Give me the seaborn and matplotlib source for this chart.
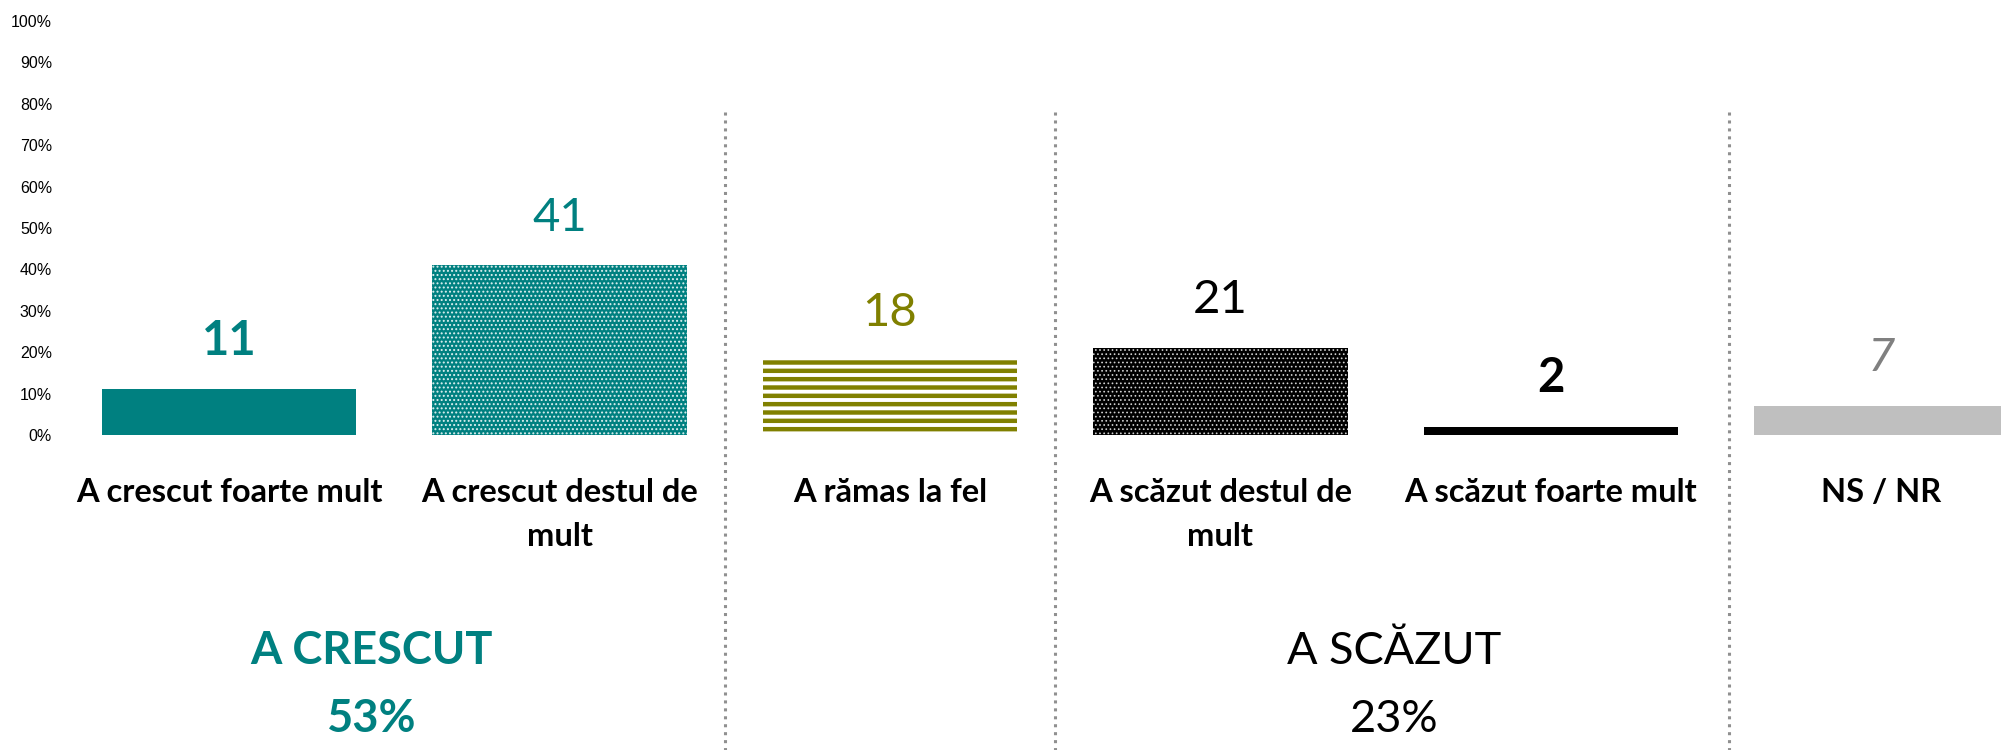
import matplotlib
matplotlib.use('Agg')
import matplotlib.pyplot as plt
import seaborn as sns

# Data
categories = ['A crescut foarte mult', 'A crescut destul de\nmult', 'A rămas la fel',
              'A scăzut destul de\nmult', 'A scăzut foarte mult', 'NS / NR']
values = [11, 41, 18, 21, 2, 7]
value_labels = ['11', '41', '18', '21', '2', '7']
group_titles = ['A CRESCUT', 'A SCĂZUT']
group_totals = ['53%', '23%']
group_centers = [0.43, 3.525]
y_ticks = list(range(0, 101, 10))
separators = [1.5, 2.5, 4.54]

teal = '#008080'
olive = '#808000'

sns.set_style('white')
plt.rcParams['font.family'] = ['Lato', 'DejaVu Sans']
plt.rcParams['text.color'] = 'black'
plt.rcParams['ytick.color'] = 'black'

fig = plt.figure(figsize=(20.01, 7.5), dpi=100)
ax = fig.add_axes([64 / 2001, 315 / 750, 1 - 64 / 2001, 414 / 750])

bar_colors = [teal, teal, 'white', 'black', 'black', '#bfbfbf']
sns.barplot(x=categories, y=values, hue=categories, palette=bar_colors,
            saturation=1, width=0.77, legend=False, ax=ax)

# patterns on the bars
hatches = [None, '....', '--', '....', None, None]
hatch_colors = [None, '#dcefef', olive, '#d0d0d0', None, None]
hatch_widths = [1, 0.9, 3.2, 0.7, 1, 1]
for p, h, hc, hw in zip(ax.patches, hatches, hatch_colors, hatch_widths):
    p.set_linewidth(0)
    if h:
        p.set_hatch(h)
        p.set_edgecolor(hc)
        if hasattr(p, 'set_hatch_linewidth'):
            p.set_hatch_linewidth(hw)

# value labels above the bars
label_style = [
    dict(color=teal, fontweight='bold'),
    dict(color=teal),
    dict(color=olive),
    dict(color='black'),
    dict(color='black', fontweight='bold'),
    dict(color='#808080', fontstyle='italic'),
]
for i, (v, lbl) in enumerate(zip(values, value_labels)):
    ax.annotate(lbl, (i, v), xytext=(0, 25), textcoords='offset points',
                ha='center', va='baseline', fontsize=34, **label_style[i])

# category names under the bars, one line at a time
for i, cat in enumerate(categories):
    for k, line in enumerate(cat.split('\n')):
        ax.text(i, -16.1 - k * 10.8, line, ha='center', va='baseline',
                fontsize=23.5, fontweight='bold', color='black')

# group summaries
ax.text(group_centers[0], -55.3, group_titles[0], ha='center', va='baseline',
        fontsize=32.5, fontweight='bold', color=teal)
ax.text(group_centers[0], -71.7, group_totals[0], ha='center', va='baseline',
        fontsize=32.5, fontweight='bold', color=teal)
ax.text(group_centers[1], -55.3, group_titles[1], ha='center', va='baseline',
        fontsize=32.5, color='black')
ax.text(group_centers[1], -71.7, group_totals[1], ha='center', va='baseline',
        fontsize=32.5, color='black')

# dotted separators
for x in separators:
    ax.plot([x, x], [78, -80], color='#909090', lw=2.2,
            linestyle=(0, (1, 1.6)), clip_on=False)

ax.set_xlim(-0.5, 5.363)
ax.set_ylim(0, 100)
ax.set_xticks([])
ax.set_xlabel('')
ax.set_yticks(y_ticks)
ax.set_yticklabels([f'{t}%' for t in y_ticks], fontfamily='Liberation Sans',
                   fontsize=11.5, color='black')
ax.tick_params(axis='y', length=0, pad=8.6)
sns.despine(ax=ax, left=True, bottom=True)

fig.savefig('out.png', dpi=100)
